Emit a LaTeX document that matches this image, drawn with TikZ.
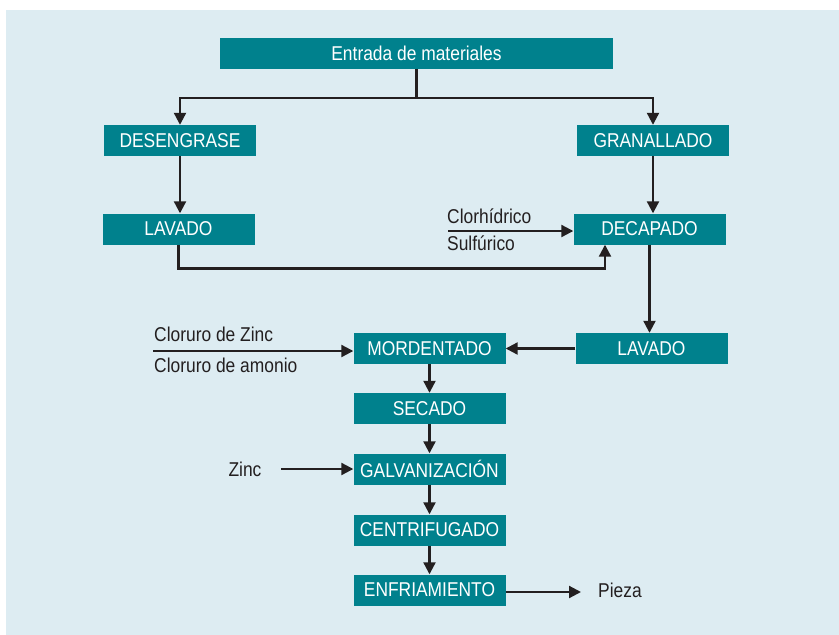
\documentclass[tikz,border=0pt]{standalone}
\usepackage{fontspec}
\setmainfont{Liberation Sans}[FakeStretch=0.87]
\usetikzlibrary{arrows.meta}
\definecolor{bgblue}{HTML}{DDECF2}
\definecolor{boxteal}{HTML}{00818D}
\definecolor{ink}{HTML}{231F20}
\begin{document}
\begin{tikzpicture}[x=1pt,y=-1pt,
  box/.style={fill=boxteal, text=white, minimum height=31pt, minimum width=152pt, inner sep=0pt, font=\fontsize{20}{24}\selectfont},
  lbl/.style={text=ink, inner sep=1pt, font=\fontsize{20}{24}\selectfont},
  conn/.style={draw=ink, line width=2.2pt},
  arr/.style={conn, -{Triangle[length=12pt,width=12pt]}}]
\useasboundingbox (0,0) rectangle (839,635);
\fill[bgblue] (6,10) rectangle (839,635);

\node[box, minimum width=393pt] (entrada) at (416.5,53) {Entrada de materiales};
\node[box] (deseng) at (180,140.5) {DESENGRASE};
\node[box] (gran) at (653,140.5) {GRANALLADO};
\node[box] (lav1) at (178.5,229) {LAVADO};
\node[box] (decap) at (649.5,229) {DECAPADO};
\node[box] (lav2) at (651.5,348.5) {LAVADO};
\node[box] (mord) at (429.5,348.5) {MORDENTADO};
\node[box] (sec) at (429.5,408.5) {SECADO};
\node[box] (galv) at (429.5,469) {GALVANIZACIÓN};
\node[box] (cent) at (429.5,530) {CENTRIFUGADO};
\node[box] (enfr) at (429.5,590) {ENFRIAMIENTO};

\coordinate (split) at (416.5,98);
\draw[conn] (entrada.south) -- (split);
\draw[arr] (split) -| (deseng.north);
\draw[arr] (split) -| (gran.north);
\draw[arr] (deseng.south) -- (deseng.south |- lav1.north);
\draw[arr] (gran.south) -- (gran.south |- decap.north);

\coordinate (cl) at (448,231);
\draw[arr] (cl) -- (cl -| decap.west);
\node[lbl, anchor=south west] (clor) at (446,225) {Clorhídrico};
\node[lbl, anchor=north west] (sulf) at (446,235) {Sulfúrico};

\coordinate (lavturn) at (605,268.5);
\draw[arr] (lav1.south) |- (lavturn) -- (lavturn |- decap.south);

\draw[arr] (decap.south) -- (decap.south |- lav2.north);
\draw[arr] (lav2.west) -- (mord.east);

\coordinate (cz) at (153,351);
\draw[arr] (cz) -- (cz -| mord.west);
\node[lbl, anchor=south west] (czinc) at (153,343) {Cloruro de Zinc};
\node[lbl, anchor=north west] (camon) at (153,357) {Cloruro de amonio};

\draw[arr] (mord.south) -- (sec.north);
\draw[arr] (sec.south) -- (galv.north);
\draw[arr] (galv.south) -- (cent.north);
\draw[arr] (cent.south) -- (enfr.north);

\node[lbl] (zinc) at (245,469) {Zinc};
\coordinate (zstart) at (281,469);
\draw[arr] (zstart) -- (galv.west);

\coordinate (pend) at (581,592);
\draw[arr] (enfr.east |- pend) -- (pend);
\node[lbl] (pieza) at (620,590) {Pieza};
\end{tikzpicture}
\end{document}
